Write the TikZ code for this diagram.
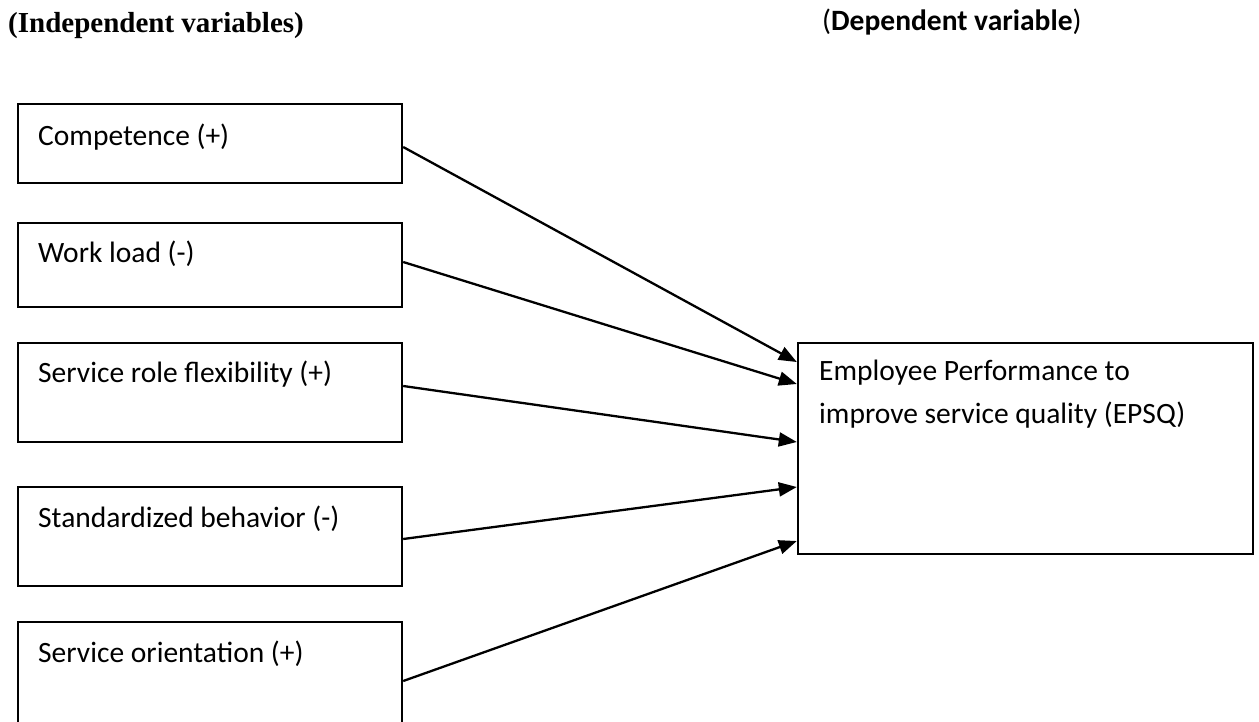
\documentclass[tikz,border=0pt]{standalone}
\usepackage{fontspec}
\setmainfont{Carlito}
\newfontfamily\timesfont{Liberation Serif}
\usetikzlibrary{arrows.meta}

\tikzset{
  varbox/.style={draw, line width=2.4pt, minimum width=384pt, inner sep=0pt},
  vartext/.style={anchor=base west, inner sep=0pt, font=\fontsize{29.5}{35}\selectfont},
  link/.style={line width=2.3pt, -{Triangle[length=18pt,width=14pt]}},
}

\begin{document}
\begin{tikzpicture}[x=1pt, y=-1pt]
  \useasboundingbox (0,0) rectangle (1259,721);
  \clip (0,0) rectangle (1259,721);

  % column headings
  \node[anchor=base west, inner sep=0pt, font=\timesfont\bfseries\fontsize{29}{35}\selectfont]
    (hind) at (8,32) {(Independent variables)};
  \node[anchor=base west, inner sep=0pt, font=\fontsize{29.5}{35}\selectfont]
    (hdep) at (822,30) {(\textbf{Dependent variable})};

  % independent variables
  \node[varbox, minimum height=79pt]  (c1) at (210,143.5) {};
  \node[varbox, minimum height=84pt]  (c2) at (210,265)   {};
  \node[varbox, minimum height=99pt]  (c3) at (210,392.5) {};
  \node[varbox, minimum height=99pt]  (c4) at (210,536.5) {};
  \node[varbox, minimum height=118pt] (c5) at (210,681)   {};

  \node[vartext] (t1) at (38,145) {Competence (+)};
  \node[vartext] (t2) at (38,262) {Work load (-)};
  \node[vartext] (t3) at (38,382) {Service role flexibility (+)};
  \node[vartext] (t4) at (38,527) {Standardized behavior (-)};
  \node[vartext] (t5) at (38,662) {Service orientation (+)};

  % dependent variable
  \node[varbox, minimum width=455pt, minimum height=211pt] (ep) at (1025.5,448.5) {};
  \node[vartext] (e1) at (819,380) {Employee Performance to};
  \node[vartext] (e2) at (819,423) {improve service quality (EPSQ)};

  % where each arrow leaves its box
  \coordinate (s1) at (c1.east |- 0,147);
  \coordinate (s2) at (c2.east |- 0,262);
  \coordinate (s3) at (c3.east |- 0,386);
  \coordinate (s4) at (c4.east |- 0,539);
  \coordinate (s5) at (c5.east |- 0,681);

  % arrow targets on the left side of the dependent box
  \coordinate (a1) at (ep.west |- 0,362);
  \coordinate (a2) at (ep.west |- 0,384);
  \coordinate (a3) at (ep.west |- 0,442);
  \coordinate (a4) at (ep.west |- 0,487);
  \coordinate (a5) at (ep.west |- 0,541);

  \draw[link] (s1) -- (a1);
  \draw[link] (s2) -- (a2);
  \draw[link] (s3) -- (a3);
  \draw[link] (s4) -- (a4);
  \draw[link] (s5) -- (a5);
\end{tikzpicture}
\end{document}
